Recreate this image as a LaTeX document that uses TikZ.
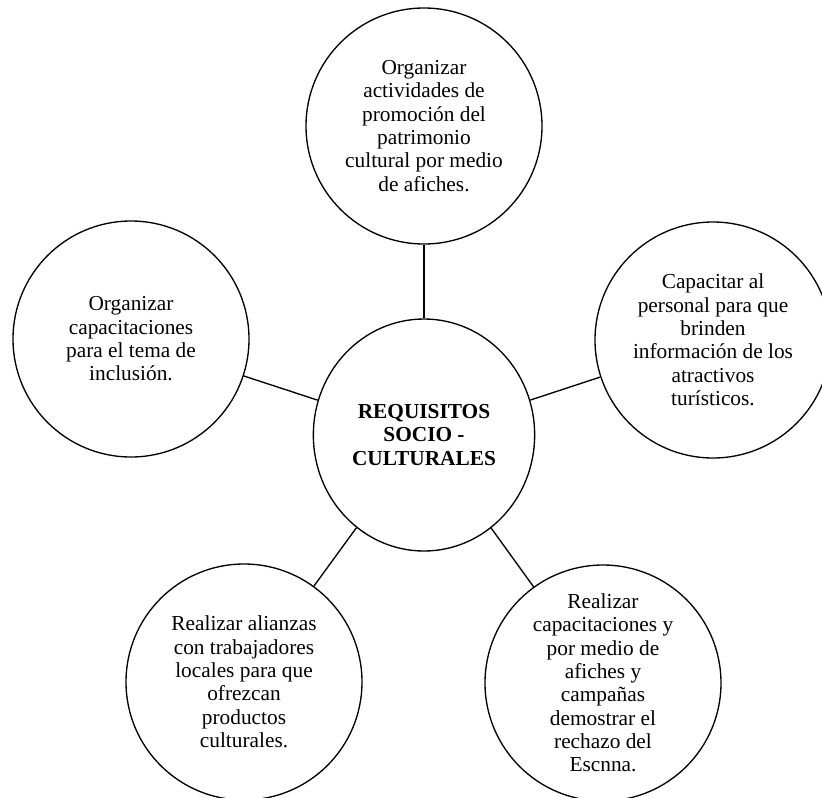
\documentclass[tikz,border=0pt]{standalone}
\usepackage{fontspec}
\setmainfont{Liberation Serif}
\usetikzlibrary{shapes.geometric}
\tikzset{
  topic/.style = {draw, line width=1pt, ellipse, inner sep=0pt,
                  minimum width=166pt, minimum height=174pt, align=center,
                  font=\fontsize{16}{17.5}\selectfont\bfseries},
  task/.style = {draw, line width=1pt, circle, inner sep=0pt,
                 minimum size=177pt, align=center,
                 font=\fontsize{16}{17.5}\selectfont},
  link/.style = {line width=1pt},
}

\begin{document}
\begin{tikzpicture}[x=0.75pt, y=-0.75pt]
  %% Page size of the picture, the right circle runs over its edge
  \clip (0, 0) rectangle (822, 797);

  %% The central topic
  \node [topic] (req) at (424, 435) {REQUISITOS\\SOCIO -\\CULTURALES};

  %% The five tasks round it
  \node [task] (req_top) at (424, 126)
    {Organizar\\actividades de\\promoción del\\patrimonio\\cultural por medio\\de afiches.};
  \node [task] (req_left) at (131, 339)
    {Organizar\\capacitaciones\\para el tema de\\inclusión.};
  \node [task] (req_right) at (713, 340)
    {Capacitar al\\personal para que\\brinden\\información de los\\atractivos\\turísticos.};
  \node [task] (req_botleft) at (244, 682)
    {Realizar alianzas\\con trabajadores\\locales para que\\ofrezcan\\productos\\culturales.};
  \node [task] (req_botright) at (603, 683)
    {Realizar\\capacitaciones y\\por medio de\\afiches y\\campañas\\demostrar el\\rechazo del\\Escnna.};

  %% Connect the topic to every task
  \foreach \n in {top, left, right, botleft, botright}{%
    \draw [link] (req) -- (req_\n);
  }
\end{tikzpicture}
\end{document}
